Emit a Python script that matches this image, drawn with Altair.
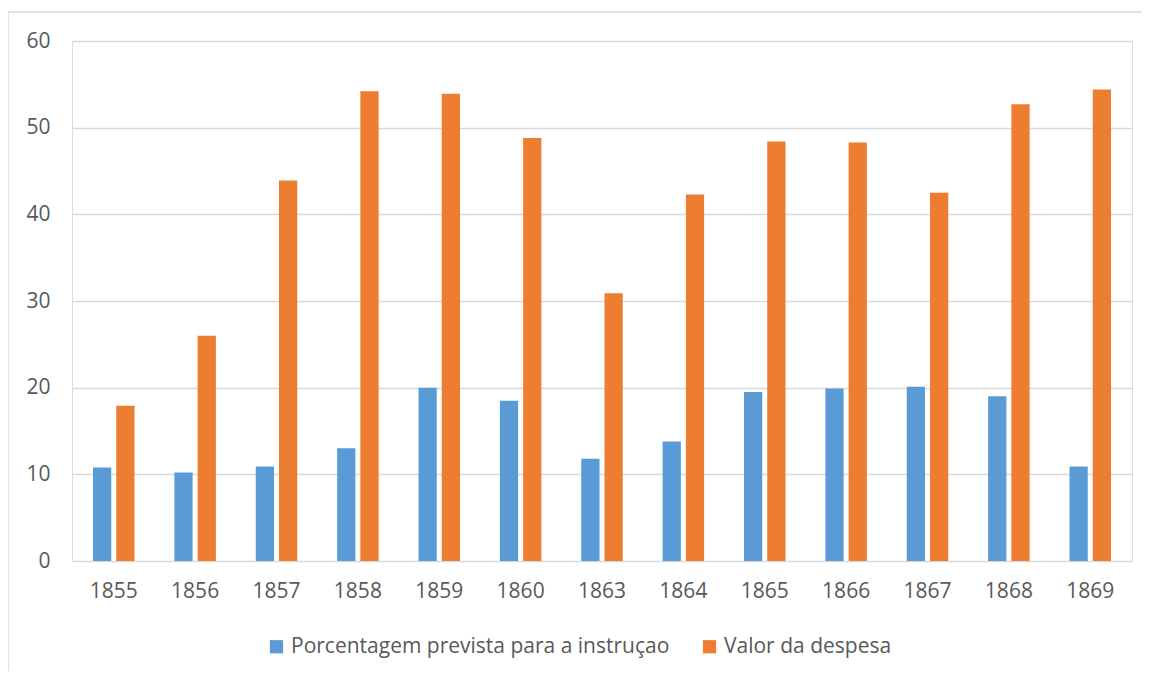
import altair as alt
import pandas as pd

years = ["1855", "1856", "1857", "1858", "1859", "1860", "1863",
         "1864", "1865", "1866", "1867", "1868", "1869"]
porcentagem = [10.8, 10.2, 10.9, 13.0, 20.0, 18.5, 11.8,
               13.8, 19.5, 19.9, 20.1, 19.0, 10.9]
despesa = [17.9, 26.0, 43.9, 54.2, 53.9, 48.8, 30.9,
           42.3, 48.4, 48.3, 42.5, 52.7, 54.4]
series = ["Porcentagem prevista para a instruçao", "Valor da despesa"]
colors = ["#5B9BD5", "#ED7D31"]

rows = []
for i, y in enumerate(years):
    rows.append({"Ano": y, "Serie": series[0], "Valor": porcentagem[i]})
    rows.append({"Ano": y, "Serie": series[1], "Valor": despesa[i]})
df = pd.DataFrame(rows)

FONT = "Open Sans"
FS = 21
W, H = 1060, 520

bars = alt.Chart(df).mark_bar().encode(
    x=alt.X("Ano:N", sort=years, title=None,
            scale=alt.Scale(paddingInner=0.49, paddingOuter=0.258),
            axis=alt.Axis(labelAngle=0, ticks=False, domain=False,
                          labelPadding=19, labelFontSize=FS,
                          labelColor="#595959", labelFont=FONT)),
    xOffset=alt.XOffset("Serie:N", sort=series,
                        scale=alt.Scale(paddingInner=0.215, paddingOuter=0)),
    y=alt.Y("Valor:Q", title=None,
            scale=alt.Scale(domain=[0, 60], nice=False),
            axis=alt.Axis(values=[0, 10, 20, 30, 40, 50, 60], ticks=False,
                          domain=False, labelPadding=22, labelFontSize=FS,
                          labelColor="#595959", labelFont=FONT,
                          gridColor="#D9D9D9", gridWidth=1.3)),
    color=alt.Color("Serie:N", sort=series,
                    scale=alt.Scale(domain=series, range=colors),
                    legend=alt.Legend(title=None, orient="none",
                                      direction="horizontal",
                                      legendX=194, legendY=595,
                                      symbolType="square", symbolSize=175,
                                      symbolStrokeWidth=0,
                                      labelFontSize=FS, labelFont=FONT,
                                      labelColor="#595959", labelOffset=4,
                                      labelLimit=600,
                                      columnPadding=29)),
)

border = alt.Chart(pd.DataFrame({"k": [0]})).mark_rule(
    color="#D9D9D9", strokeWidth=1.5).encode(
    x=alt.value(-64), x2=alt.value(W + 100), y=alt.value(-29))
border_left = alt.Chart(pd.DataFrame({"k": [0]})).mark_rule(
    color="#D9D9D9", strokeWidth=1.5).encode(
    x=alt.value(-64), y=alt.value(-29), y2=alt.value(H + 200))

chart = alt.layer(bars, border, border_left).properties(
    width=W, height=H,
    padding={"left": 64, "top": 33, "right": 10, "bottom": 110},
    autosize=alt.AutoSizeParams(type="none"),
).configure_view(stroke=None).configure(background="white")

chart.save("out.html", embed_options={"renderer": "svg", "actions": False})
